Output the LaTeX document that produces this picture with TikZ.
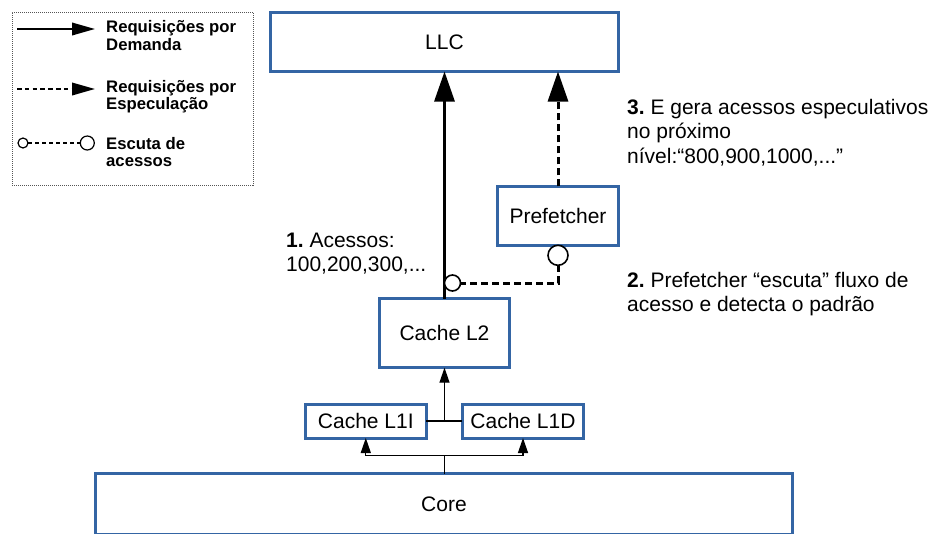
\documentclass[tikz,border=0pt]{standalone}
\usepackage{fontspec}
\setmainfont{Liberation Sans}
\usetikzlibrary{arrows.meta}
\definecolor{boxblue}{HTML}{3465A4}
\definecolor{leggray}{HTML}{555555}
\frenchspacing
\begin{document}
\begin{tikzpicture}[x=1pt,y=-1pt,
  box/.style={draw=boxblue, line width=3pt, fill=white, inner sep=0pt, outer sep=0pt,
    font=\fontsize{21}{24.5}\selectfont},
  lbl/.style={font=\fontsize{21}{24.5}\selectfont\frenchspacing, align=left, inner sep=0pt, anchor=base west},
  leg/.style={font=\fontsize{16.7}{17.5}\selectfont\bfseries, align=left, inner sep=0pt, anchor=base west},
  big/.style={-{Triangle[length=30pt,width=20pt]}, line width=3pt},
  small/.style={-{Triangle[length=15pt,width=10pt]}, line width=1.3pt},
  legarrow/.style={-{Triangle[length=23pt,width=12.5pt]}, line width=2pt},
  thickdash/.style={dash pattern=on 7pt off 4pt},
  listen/.style={circle, draw, fill=white, inner sep=0pt, outer sep=0pt}
]
\useasboundingbox (0,0) rectangle (940,533);

% legend
\node[draw=leggray, densely dotted, line width=1pt, minimum width=241pt, minimum height=173pt, inner sep=0pt] (legend) at (132.5,98.5) {};
\coordinate (la1) at (17,29);
\coordinate (lb1) at (95,29);
\draw[legarrow] (la1) -- (lb1);
\node[leg] (lt1) at (106,50.2) {Requisições por\\Demanda};
\coordinate (la2) at (17,89);
\coordinate (lb2) at (95,89);
\draw[legarrow, dash pattern=on 4.5pt off 3.3pt] (la2) -- (lb2);
\node[leg] (lt2) at (106,109.5) {Requisições por\\Especulação};
\node[listen, line width=1.2pt, minimum size=10pt] (lc1) at (23,143) {};
\node[listen, line width=1.2pt, minimum size=14pt] (lc2) at (87.3,143) {};
\draw[line width=1.5pt, dash pattern=on 4pt off 3pt] (lc1) -- (lc2);
\node[leg] (lt3) at (106,166.8) {Escuta de\\acessos};

% boxes
\node[box, minimum width=348pt, minimum height=59pt] (LLC) at (444.5,42) {LLC};
\node[box, minimum width=121.2pt, minimum height=59pt] (Pf) at (558,215.8) {Prefetcher};
\node[box, minimum width=130pt, minimum height=69pt] (L2) at (444.5,333.2) {Cache L2};
\node[box, minimum width=121pt, minimum height=34pt] (L1I) at (365.8,421) {Cache L1I};
\node[box, minimum width=121.4pt, minimum height=34pt] (L1D) at (523,421) {Cache L1D};
\node[box, minimum width=696.6pt, minimum height=61pt] (Core) at (444,504.2) {Core};

% demand and speculative requests
\draw[big] (L2.north) -- (L2.north |- LLC.south);
\draw[big, thickdash] (Pf.north) -- (Pf.north |- LLC.south);

% snooping
\node[listen, line width=1.6pt, minimum size=20pt, anchor=north] (c1) at (Pf.south) {};
\node[listen, line width=1.6pt, minimum size=16pt] (c2) at (452.5,283) {};
\draw[line width=3pt, thickdash] (c1.south) |- (c2.east);

% L1 -> L2
\coordinate (j1) at (L2.south |- L1I.east);
\draw[line width=1.3pt] (L1I.east) -- (L1D.west);
\draw[small] (j1) -- (L2.south);

% Core -> L1
\coordinate (j2) at (444.5,455.7);
\draw[line width=1.3pt] (Core.north -| j2) -- (j2);
\draw[small] (j2) -| (L1I.south);
\draw[small] (j2) -| (L1D.south);

% labels
\node[lbl] (t1) at (286,271.7) {\textbf{1.} Acessos:\\100,200,300,...};
\node[lbl] (t3) at (627,163.3) {\textbf{3.} E gera acessos especulativos\\no próximo\\nível:“800,900,1000,...”};
\node[lbl] (t2) at (627,311.7) {\textbf{2.} Prefetcher “escuta” fluxo de\\acesso e detecta o padrão};
\end{tikzpicture}
\end{document}
